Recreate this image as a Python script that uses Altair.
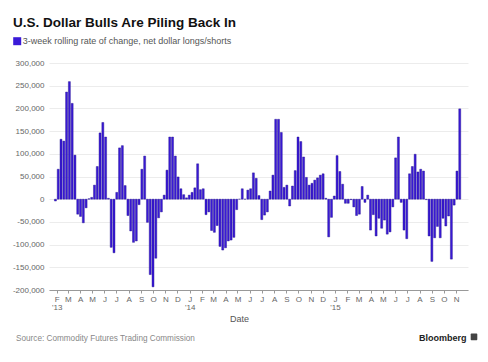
import altair as alt
import pandas as pd

# ---- data (thousands of contracts, weekly) ----
first_week = "2013-01-29"
net_change_k = [
    -4, 66, 132, 128, 236, 259, 211, 97, -33, -38,
    -52, -19, 1, 4, 31, 72, 146, 169, 137, 2,
    -106, -118, 15, 113, 118, 30, -36, -70, -95, -92,
    -12, 66, 95, -51, -166, -193, -130, -41, -28, 9,
    64, 137, 137, 95, 49, 23, 10, 3, 9, 15,
    25, 78, 21, 23, -34, -28, -69, -73, -58, -104,
    -112, -107, -92, -90, -84, -23, 0, 23, 0, 20,
    23, 58, 46, 8, -45, -35, -28, 18, 53, 176,
    176, 147, 26, 31, -15, 29, 63, 137, 127, 93,
    48, 31, 35, 42, 47, 53, 56, 2, -83, -40,
    7, 96, 61, 33, -9, -9, -1, -17, -36, -33,
    28, -7, 9, -68, -34, -81, -42, -64, -46, -77,
    -72, -17, 91, 137, -7, -68, -87, 56, 72, 99,
    60, 66, 62, -1, -81, -137, -85, -60, -85, -42,
    -59, -37, -132, -13, 62, 199,
]
series_name = "3-week rolling rate of change, net dollar longs/shorts"
title_text = "U.S. Dollar Bulls Are Piling Back In"
source_text = "Source: Commodity Futures Trading Commission"
brand_text = "Bloomberg"
x_title = "Date"

week_dates = pd.date_range(first_week, periods=len(net_change_k), freq="7D").strftime("%Y-%m-%d").tolist()
month_ticks = pd.date_range("2013-02-01", "2015-11-01", freq="MS")
tick_ms = [int(t.value // 10**6) for t in month_ticks]
y_ticks = list(range(-200000, 300001, 50000))
x_domain = [int(pd.Timestamp("2013-01-25T10:00").value // 10**6),
            int(pd.Timestamp("2015-11-18T04:00").value // 10**6)]

df = pd.DataFrame({
    "date": week_dates,
    "change": [v * 1000 for v in net_change_k],
    "series": series_name,
})

month_label = "substring(utcFormat(datum.value, '%b'), 0, 1)"
label_expr = (
    "(utcmonth(datum.value) == 0 || (utcyear(datum.value) == 2013 && utcmonth(datum.value) == 1)) ? ["
    + month_label + ", \"'\" + utcFormat(datum.value, '%y')] : " + month_label
)

bars = alt.Chart(df).mark_bar(size=2, stroke="#1c0a86", strokeWidth=0.4).encode(
    x=alt.X(
        "date:T",
        scale=alt.Scale(type="utc", domain=x_domain),
        axis=alt.Axis(
            values=tick_ms, labelExpr=label_expr, title=x_title,
            titleX=190, titleY=31.5, titleBaseline="alphabetic", titleAnchor="middle",
            titleFontSize=9, titleFontWeight="normal", titleColor="#555555",
            tickSize=3, tickColor="#999999", domainColor="#999999",
            labelFontSize=8, labelColor="#666666", labelPadding=2,
            labelLineHeight=8.5, labelBaseline="top", labelFlush=False,
            labelOverlap=False, grid=False,
        ),
    ),
    y=alt.Y(
        "change:Q",
        scale=alt.Scale(domain=[-200000, 300000], nice=False),
        axis=alt.Axis(
            values=y_ticks, title=None, domain=False, ticks=False,
            labelExpr="(datum.value < 0 ? '-' : '') + format(abs(datum.value), ',')",
            labelPadding=5, labelFontSize=8, labelColor="#666666",
            gridColor="#ececec", gridWidth=1,
        ),
    ),
    color=alt.Color(
        "series:N",
        scale=alt.Scale(range=["#3a1ad8"]),
        legend=alt.Legend(
            title=None, orient="none", legendX=-36.3, legendY=-26.3,
            symbolType="square", symbolSize=64, symbolStrokeWidth=0,
            labelFontSize=9, labelColor="#555555", labelOffset=1,
            labelLimit=0, padding=0, rowPadding=0,
        ),
    ),
)

source = alt.Chart(pd.DataFrame({"t": [source_text]})).mark_text(
    align="left", baseline="alphabetic", fontSize=8.2, color="#888888"
).encode(x=alt.value(-33), y=alt.value(278), text="t:N")

brand = alt.Chart(pd.DataFrame({"t": [brand_text]})).mark_text(
    align="right", baseline="alphabetic", fontSize=9, fontWeight="bold", color="#222222"
).encode(x=alt.value(417.5), y=alt.value(277.5), text="t:N")

icon = alt.Chart(pd.DataFrame({"t": [brand_text]})).mark_rect(
    color="#444444", cornerRadius=1
).encode(x=alt.value(421.7), x2=alt.value(428.3), y=alt.value(270.5), y2=alt.value(277.2))

chart = alt.layer(bars, source, brand, icon).properties(
    width=419, height=227,
    autosize=alt.AutoSizeParams(type="none"),
    padding={"left": 41, "top": 55, "right": 12, "bottom": 64},
    title=alt.TitleParams(
        title_text, anchor="start", frame="group", dx=-36, dy=13.5, offset=10,
        baseline="alphabetic", fontSize=13.5, fontWeight="bold", color="#111111",
    ),
).configure(font="Liberation Sans").configure_view(stroke=None)

chart.save("out.html", embed_options={"renderer": "svg", "actions": False})
